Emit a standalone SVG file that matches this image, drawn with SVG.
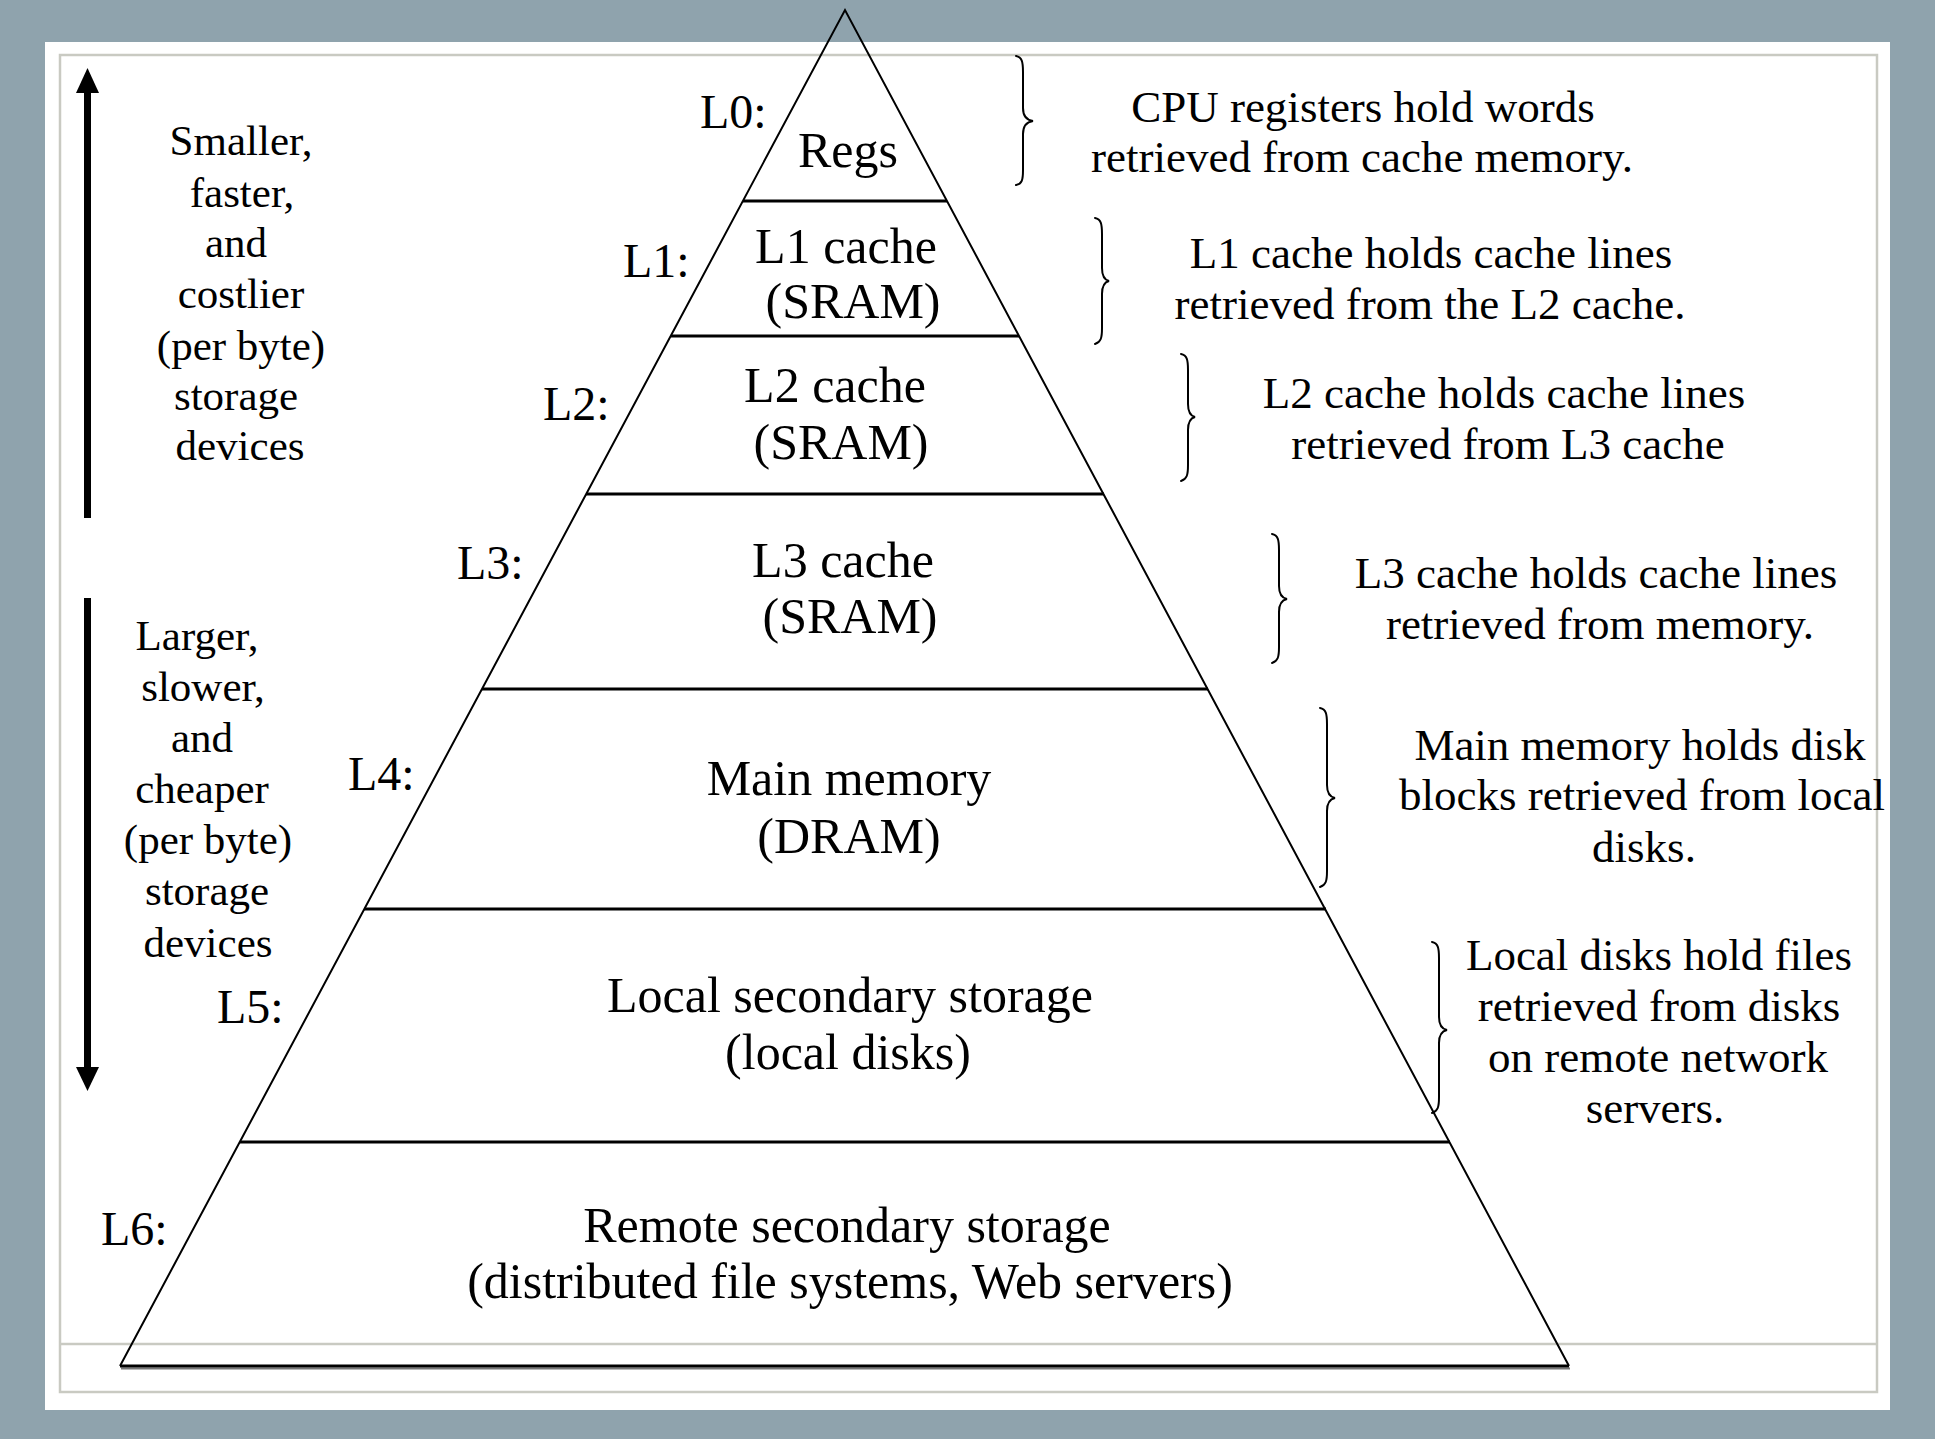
<svg xmlns="http://www.w3.org/2000/svg" width="1935" height="1439" viewBox="0 0 1935 1439">
<defs>
<style>
.t{font-family:"Liberation Serif","Times New Roman",serif;fill:#000}
.in{font-size:50px;text-anchor:middle}
.lb{font-size:48px}
.desc{font-size:45px;text-anchor:middle}
.side{font-size:43px;text-anchor:middle}
.edge{stroke:#000;stroke-width:2;fill:none}
.tier{stroke:#000;stroke-width:3;fill:none}
.brace{stroke:#000;stroke-width:2;fill:none;stroke-linecap:round}
.frame{stroke:#c9cac2;stroke-width:2.5;fill:none}
</style>
</defs>
<g id="background">
<rect x="0" y="0" width="1935" height="1439" fill="#8fa3ad"/>
<rect x="45" y="42" width="1845" height="1368" fill="#ffffff"/>
<rect class="frame" x="60" y="55" width="1817" height="1337"/>
<line class="frame" x1="60" y1="1344" x2="1877" y2="1344"/>
</g>
<g id="pyramid">
<polyline class="edge" points="120,1366 845,10 1569,1366"/>
<line x1="121" y1="1368.5" x2="1570" y2="1368.5" stroke="#777" stroke-width="2"/>
<line class="tier" x1="120" y1="1366" x2="1569" y2="1366"/>
</g>
<g id="level-L0">
<text class="t lb" x="700" y="128">L0:</text>
<text class="t in" x="848" y="167">Regs</text>
<line class="tier" x1="743" y1="201" x2="947" y2="201"/>
</g>
<g id="level-L1">
<text class="t lb" x="623" y="277">L1:</text>
<text class="t in" x="846" y="263">L1 cache</text>
<text class="t in" x="853" y="318">(SRAM)</text>
<line class="tier" x1="671" y1="336" x2="1019" y2="336"/>
</g>
<g id="level-L2">
<text class="t lb" x="543" y="420">L2:</text>
<text class="t in" x="835" y="402">L2 cache</text>
<text class="t in" x="841" y="459">(SRAM)</text>
<line class="tier" x1="586" y1="494" x2="1104" y2="494"/>
</g>
<g id="level-L3">
<text class="t lb" x="457" y="579">L3:</text>
<text class="t in" x="843" y="577">L3 cache</text>
<text class="t in" x="850" y="633">(SRAM)</text>
<line class="tier" x1="482" y1="689" x2="1208" y2="689"/>
</g>
<g id="level-L4">
<text class="t lb" x="348" y="790">L4:</text>
<text class="t in" x="849" y="795">Main memory</text>
<text class="t in" x="849" y="853">(DRAM)</text>
<line class="tier" x1="364" y1="909" x2="1326" y2="909"/>
</g>
<g id="level-L5">
<text class="t lb" x="217" y="1023">L5:</text>
<text class="t in" x="850" y="1012">Local secondary storage</text>
<text class="t in" x="848" y="1069">(local disks)</text>
<line class="tier" x1="240" y1="1142" x2="1450" y2="1142"/>
</g>
<g id="level-L6">
<text class="t lb" x="101" y="1245">L6:</text>
<text class="t in" x="847" y="1242">Remote secondary storage</text>
<text class="t in" x="850" y="1298">(distributed file systems, Web servers)</text>
</g>
<g id="desc-L0">
<text class="t desc" x="1363" y="122">CPU registers hold words</text>
<text class="t desc" x="1362" y="172">retrieved from cache memory.</text>
</g>
<g id="desc-L1">
<text class="t desc" x="1431" y="268">L1 cache holds cache lines</text>
<text class="t desc" x="1430" y="319">retrieved from the L2 cache.</text>
</g>
<g id="desc-L2">
<text class="t desc" x="1504" y="408">L2 cache holds cache lines</text>
<text class="t desc" x="1508" y="459">retrieved from L3 cache</text>
</g>
<g id="desc-L3">
<text class="t desc" x="1596" y="588">L3 cache holds cache lines</text>
<text class="t desc" x="1600" y="639">retrieved from memory.</text>
</g>
<g id="desc-L4">
<text class="t desc" x="1640" y="760">Main memory holds disk</text>
<text class="t desc" x="1642" y="810">blocks retrieved from local</text>
<text class="t desc" x="1644" y="862">disks.</text>
</g>
<g id="desc-L5">
<text class="t desc" x="1659" y="970">Local disks hold files</text>
<text class="t desc" x="1659" y="1021">retrieved from disks</text>
<text class="t desc" x="1658" y="1072">on remote network</text>
<text class="t desc" x="1655" y="1123">servers.</text>
</g>
<g id="side-upper">
<text class="t side" x="241" y="155">Smaller,</text>
<text class="t side" x="242" y="207">faster,</text>
<text class="t side" x="236" y="257">and</text>
<text class="t side" x="241" y="308">costlier</text>
<text class="t side" x="241" y="360">(per byte)</text>
<text class="t side" x="236" y="410">storage</text>
<text class="t side" x="240" y="460">devices</text>
</g>
<g id="side-lower">
<text class="t side" x="197" y="650">Larger,</text>
<text class="t side" x="203" y="701">slower,</text>
<text class="t side" x="202" y="752">and</text>
<text class="t side" x="202" y="803">cheaper</text>
<text class="t side" x="208" y="854">(per byte)</text>
<text class="t side" x="207" y="905">storage</text>
<text class="t side" x="208" y="957">devices</text>
</g>
<g id="connectors">
<g id="arrow-up">
<rect x="84" y="90" width="7" height="428" fill="#000"/>
<polygon points="76,93 99,93 87.5,68" fill="#000"/>
</g>
<g id="arrow-down">
<rect x="84" y="598" width="7" height="471" fill="#000"/>
<polygon points="76,1067 99,1067 87.5,1091" fill="#000"/>
</g>
<path class="brace" d="M1016,56 C1022,57 1023,62 1023,72 L1023,108 C1023,116 1026,120 1033,121 C1026,122 1023,126 1023,134 L1023,170 C1023,180 1022,184 1016,185"/>
<path class="brace" d="M1095,218 C1101,219 1102,224 1102,234 L1102,268 C1102,276 1105,280 1109,281 C1105,282 1102,286 1102,294 L1102,328 C1102,338 1101,342 1095,344"/>
<path class="brace" d="M1181,354 C1187,355 1188,360 1188,370 L1188,404 C1188,412 1191,416 1195,417 C1191,418 1188,422 1188,430 L1188,465 C1188,475 1187,479 1181,481"/>
<path class="brace" d="M1272,534 C1278,535 1279,540 1279,550 L1279,586 C1279,594 1282,598 1287,599 C1282,600 1279,604 1279,612 L1279,647 C1279,657 1278,661 1272,663"/>
<path class="brace" d="M1320,708 C1326,709 1327,714 1327,724 L1327,785 C1327,793 1330,797 1335,798 C1330,799 1327,803 1327,811 L1327,871 C1327,881 1326,885 1320,887"/>
<path class="brace" d="M1432,942 C1438,943 1439,948 1439,958 L1439,1017 C1439,1025 1442,1029 1447,1030 C1442,1031 1439,1035 1439,1043 L1439,1097 C1439,1107 1438,1111 1432,1113"/>
</g>
</svg>
